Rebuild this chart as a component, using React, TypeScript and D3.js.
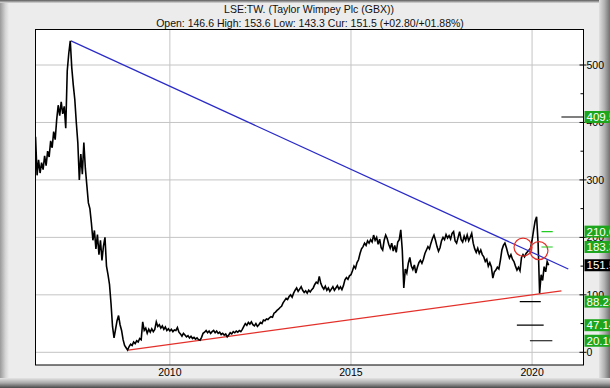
import React from 'react'
import * as d3 from 'd3'

const W = 610
const H = 388

// half-monthly closes (GBX); 2006 starts in the second half of April
const close2006 = [375, 308, 335, 312, 330, 318, 342, 325, 350, 340, 368, 356, 384, 370, 405, 430, 412]
const close2007 = [436, 415, 428, 390, 490, 520, 542, 495, 465, 440, 400, 365, 300, 345, 310, 365, 320, 290, 260, 250, 225, 195, 212, 180]
const close2008 = [205, 170, 195, 160, 185, 200, 150, 135, 118, 85, 45, 25, 40, 55, 64, 48, 38, 22, 12, 8, 4, 10, 14, 12]
const close2009 = [18, 15, 20, 18, 24, 22, 53, 38, 42, 33, 40, 35, 41, 36, 40, 53, 45, 48, 42, 46, 40, 44, 38, 41]
const close2010 = [37, 40, 36, 39, 38, 43, 35, 32, 28, 33, 30, 27, 29, 25, 28, 24, 26, 23, 25, 22, 21, 26, 33, 35]
const close2011 = [38, 34, 37, 33, 36, 38, 34, 37, 33, 35, 31, 33, 30, 32, 27, 30, 34, 32, 36, 34, 37, 35, 38, 36]
const close2012 = [40, 45, 50, 47, 52, 49, 53, 48, 46, 50, 45, 48, 52, 50, 56, 55, 58, 57, 60, 62, 61, 68, 70, 73]
const close2013 = [75, 78, 80, 86, 90, 94, 92, 97, 100, 96, 103, 108, 112, 106, 110, 114, 108, 104, 107, 103, 108, 105, 109, 112]
const close2014 = [118, 122, 120, 132, 120, 114, 110, 115, 108, 112, 106, 110, 114, 108, 112, 116, 110, 114, 109, 116, 126, 130, 127, 133]
const close2015 = [135, 142, 150, 146, 156, 161, 172, 180, 184, 190, 186, 194, 190, 196, 192, 204, 195, 200, 188, 197, 182, 178, 195, 204]
const close2016 = [198, 188, 181, 190, 176, 186, 174, 192, 196, 213, 178, 112, 145, 138, 155, 165, 150, 144, 152, 138, 148, 156, 160, 155]
const close2017 = [162, 172, 178, 184, 180, 190, 198, 204, 195, 184, 176, 182, 194, 200, 196, 205, 199, 203, 197, 207, 210, 194, 190, 200]
const close2018 = [210, 196, 192, 202, 195, 204, 194, 200, 207, 190, 180, 174, 181, 172, 178, 170, 166, 158, 162, 150, 156, 149, 129, 140]
const close2019 = [143, 148, 145, 160, 178, 186, 190, 182, 172, 164, 170, 162, 158, 150, 143, 148, 142, 165, 170, 166, 172, 175, 178, 181]
const close2020 = [195, 212, 228, 236, 190, 103, 135, 125, 149, 140, 158, 151.5]

const yearBlocks: [number, number, number[]][] = [
  [2006, 7, close2006], [2007, 0, close2007], [2008, 0, close2008], [2009, 0, close2009],
  [2010, 0, close2010], [2011, 0, close2011], [2012, 0, close2012], [2013, 0, close2013],
  [2014, 0, close2014], [2015, 0, close2015], [2016, 0, close2016], [2017, 0, close2017],
  [2018, 0, close2018], [2019, 0, close2019], [2020, 0, close2020],
]

const yTicks = [0, 100, 200, 300, 400, 500]
const xTicks = [2010, 2015, 2020]

const blueTrend: [number, number][] = [[2007.27, 542], [2021.0, 145]]
const redTrend: [number, number][] = [[2008.85, 3.8], [2020.81, 107]]
const circles: [number, number][] = [[2019.75, 183], [2020.19, 177]]

// target levels
const levelValues = [409.5, 210.0, 183.3, 88.23, 47.14, 20.1]
const levelLabels = ['409.5', '210.0', '183.3', '88.23', '47.14', '20.10']
const levelFrom = [2020.81, 2020.26, 2020.26, 2019.66, 2019.58, 2019.94]
const levelTo = [2021.42, 2020.57, 2020.57, 2020.24, 2020.32, 2020.56]
const levelGreen = [false, true, true, false, false, false]
const current = 151.5

const title = 'LSE:TW. (Taylor Wimpey Plc (GBX))'
const subtitle = 'Open: 146.6 High: 153.6 Low: 143.3 Cur: 151.5 (+02.80/+01.88%)'

export default function App() {
  const left = 35.5, right = 583.5, top = 29.5, bottom = 365

  const x = d3.scaleLinear().domain([2006.29, 2021.42]).range([left, right])
  const y = d3.scaleLinear().domain([0, 500]).range([352.3, 65])

  const series: [number, number][] = []
  yearBlocks.forEach(([yr, k0, vals]) => {
    vals.forEach((v, i) => series.push([yr + (k0 + i) / 24, v]))
  })

  const line = d3.line<[number, number]>().x(d => x(d[0])).y(d => y(d[1]))

  const minor = d3.range(50, 500, 100)
  const green = '#1da61d'
  const font = 'Liberation Sans, Arial, sans-serif'

  return (
    <svg width={W} height={H} style={{ position: 'absolute', left: 0, top: 0 }} fontFamily={font}>
      <defs>
        <linearGradient id="gBottom" x1="0" y1="0" x2="0" y2="1">
          <stop offset="0" stopColor="#e4e4e4" />
          <stop offset="0.5" stopColor="#a8a8a8" />
          <stop offset="1" stopColor="#4a4a4a" />
        </linearGradient>
        <linearGradient id="gRight" x1="0" y1="0" x2="1" y2="0">
          <stop offset="0" stopColor="#e0e0e0" />
          <stop offset="0.5" stopColor="#b0b0b0" />
          <stop offset="1" stopColor="#707070" />
        </linearGradient>
        <linearGradient id="gLeft" x1="0" y1="0" x2="1" y2="0">
          <stop offset="0" stopColor="#9a9a9a" />
          <stop offset="0.6" stopColor="#d4d4d4" />
          <stop offset="1" stopColor="#ececec" />
        </linearGradient>
        <linearGradient id="gTop" x1="0" y1="0" x2="0" y2="1">
          <stop offset="0" stopColor="#5a5a5a" />
          <stop offset="1" stopColor="#dcdcdc" />
        </linearGradient>
        <clipPath id="plot">
          <rect x={left} y={top} width={right - left} height={bottom - top} />
        </clipPath>
      </defs>

      <rect x={0} y={0} width={W} height={H} fill="#ececec" />
      <rect x={0} y={0} width={9} height={H} fill="url(#gLeft)" />
      <rect x={0} y={0} width={W} height={3} fill="url(#gTop)" />
      <rect x={599} y={0} width={11} height={H} fill="url(#gRight)" />
      <rect x={0} y={378} width={W} height={10} fill="url(#gBottom)" />

      <text x={309} y={13} textAnchor="middle" fontSize={10.5} fill="#111">{title}</text>
      <text x={310} y={27} textAnchor="middle" fontSize={10.5} fill="#111">{subtitle}</text>

      <rect x={left} y={top} width={right - left} height={bottom - top} fill="#fff" />

      {yTicks.map(t => (
        <line key={t} x1={left} x2={right} y1={y(t)} y2={y(t)} stroke="#c4c4c4" />
      ))}
      {xTicks.map(t => (
        <line key={t} x1={x(t)} x2={x(t)} y1={top} y2={bottom} stroke="#c4c4c4" />
      ))}

      <g clipPath="url(#plot)">
        <path d={line(redTrend) || ''} stroke="#e3302a" strokeWidth={1.3} fill="none" />
        <path d={line(series) || ''} stroke="#000" strokeWidth={1.6} fill="none" />
        <path d={line(blueTrend) || ''} stroke="#2b2bc8" strokeWidth={1.2} fill="none" />
        {circles.map((c, i) => (
          <circle key={i} cx={x(c[0])} cy={y(c[1])} r={9} stroke="#e3302a" strokeWidth={1.2} fill="none" />
        ))}
        {levelValues.map((v, i) => (
          <line key={i} x1={x(levelFrom[i])} x2={x(levelTo[i])} y1={y(v)} y2={y(v)}
            stroke={levelGreen[i] ? '#22cc22' : '#000'} strokeWidth={1.2} />
        ))}
      </g>

      <rect x={left} y={top} width={right - left} height={bottom - top} fill="none" stroke="#000" strokeWidth={1} />

      {yTicks.map(t => (
        <g key={t}>
          <line x1={right - 4} x2={right + 3} y1={y(t)} y2={y(t)} stroke="#000" />
          <text x={right + 3} y={y(t)} dy="0.35em" fontSize={10.5} fill="#000">{t}</text>
        </g>
      ))}
      {minor.map(t => (
        <line key={t} x1={right - 3} x2={right} y1={y(t)} y2={y(t)} stroke="#000" />
      ))}
      {xTicks.map(t => (
        <text key={t} x={x(t)} y={376} textAnchor="middle" fontSize={10.5} fill="#000">{t}</text>
      ))}

      {levelValues.map((v, i) => (
        <g key={i}>
          <rect x={right + 1} y={y(v) - 6} width={W - right} height={12} fill={green} />
          <text x={right + 3} y={y(v)} dy="0.36em" fontSize={11.5} fill="#fff">{levelLabels[i]}</text>
        </g>
      ))}
      <rect x={right + 1} y={y(current) - 6} width={W - right} height={12} fill="#000" />
      <text x={right + 3} y={y(current)} dy="0.36em" fontSize={11.5} fill="#fff">{current.toFixed(1)}</text>
    </svg>
  )
}
